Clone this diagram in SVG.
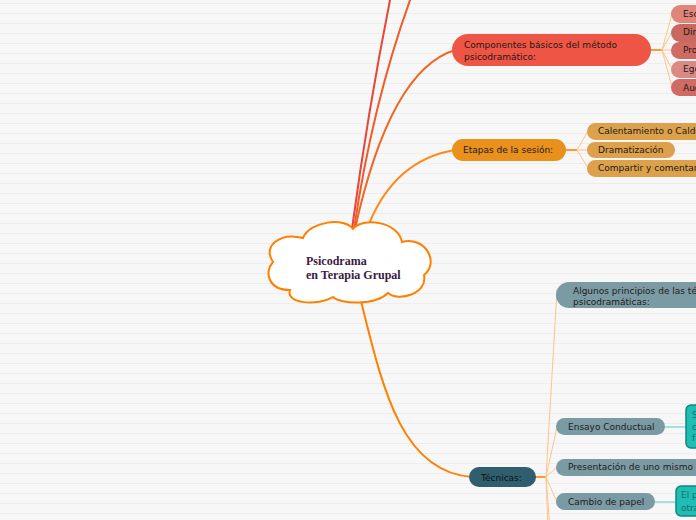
<svg xmlns="http://www.w3.org/2000/svg" width="696" height="520" viewBox="0 0 696 520">
<defs>
<pattern id="bgl" x="0" y="0" width="696" height="10" patternUnits="userSpaceOnUse">
<rect width="696" height="10" fill="#f7f7f7"/>
<rect y="3" width="696" height="1" fill="#ededed"/>
</pattern>
</defs>
<style>
.t{font-family:"DejaVu Sans",Verdana,sans-serif;font-size:9px;fill:#221a1a}
.tt{font-family:"DejaVu Sans",Verdana,sans-serif;font-size:9px;fill:#1a6e6a}
.fan{fill:none;stroke:#ffc487;stroke-width:1}
.stub{fill:none;stroke:#ff9a2a;stroke-width:2}
.tl{fill:none;stroke:#a6e2dd;stroke-width:2}
.cc{fill:#cf6b62}
.ec{fill:#dda04b}
.tc{fill:#7b9ba4}
.gc{fill:#1fbdb4;stroke:#11877f;stroke-width:1.5}
</style>
<rect width="696" height="520" fill="url(#bgl)"/>
<g id="connectors">
<path d="M352,229 Q368,110 391,-5" fill="none" stroke="#e8453a" stroke-width="2"/>
<path d="M354,229 Q373,100 413,-8" fill="none" stroke="#f25a28" stroke-width="2"/>
<path d="M355,229 Q390,70 455,50" fill="none" stroke="#f26524" stroke-width="2"/>
<path d="M369,224 Q395,160 455,150" fill="none" stroke="#ff8a1a" stroke-width="2"/>
<path d="M360,297 C382,385 400,472 472,477" fill="none" stroke="#ff8000" stroke-width="2"/>
<path class="stub" d="M650,50 H662"/>
<path class="fan" d="M662,50 L672,14 M662,50 L672,32 M662,50 L672,50 M662,50 L672,69 M662,50 L672,87"/>
<path class="stub" d="M565,150 H577"/>
<path class="fan" d="M577,150 L588,131 M577,150 L588,150 M577,150 L588,168"/>
<path class="stub" d="M534,477 H546"/>
<path class="fan" d="M546,477 L557,290 M546,477 L557,427 M546,477 L557,467 M546,477 L557,502 M546,477 L557,620 M546,477 L557,760"/>
<path class="tl" d="M664,427 H687"/>
<path class="tl" d="M654,502 H677"/>
</g>
<g id="root">
<path d="M273,262 C262,246 280,232 303,238 C310,221 345,217 353,229 C362,217 398,221 402,242 C425,236 440,262 424,275 C428,294 398,302 388,293 C375,306 340,304 333,297 C318,306 285,304 290,290 C268,290 264,272 273,262 Z" fill="#ffffff" stroke="#ff8000" stroke-width="2"/>
<text x="306" y="265" font-family="'Liberation Serif',serif" font-weight="bold" font-size="12" fill="#3b1a46">Psicodrama</text>
<text x="306" y="279" font-family="'Liberation Serif',serif" font-weight="bold" font-size="12" fill="#3b1a46">en Terapia Grupal</text>
</g>
<g id="componentes">
<rect x="452" y="34" width="199" height="32" rx="16" fill="#ee5545"/>
<text class="t" x="464" y="48">Componentes básicos del método</text>
<text class="t" x="464" y="60">psicodramático:</text>
</g>
<g id="c1"><rect x="671" y="5" width="60" height="18" rx="9" fill="#e0857a"/><text class="t" x="683" y="17">Escenario</text></g>
<g id="c2"><rect x="671" y="24" width="60" height="18" rx="9" fill="#c9685f"/><text class="t" x="683" y="35">Director</text></g>
<g id="c3"><rect x="671" y="42" width="60" height="17" rx="8.5" class="cc"/><text class="t" x="683" y="53">Protagonista</text></g>
<g id="c4"><rect x="671" y="61" width="60" height="17" rx="8.5" fill="#d98b83"/><text class="t" x="683" y="72">Ego auxiliar</text></g>
<g id="c5"><rect x="671" y="79" width="60" height="17" rx="8.5" class="cc"/><text class="t" x="683" y="91">Audiencia</text></g>
<g id="etapas">
<rect x="452" y="139" width="114" height="22" rx="11" fill="#e9901d"/>
<text class="t" x="463" y="153">Etapas de la sesión:</text>
</g>
<g id="e1"><rect x="587" y="123" width="140" height="17" rx="8.5" class="ec"/><text class="t" x="598" y="134">Calentamiento o Caldeamiento</text></g>
<g id="e2"><rect x="587" y="142" width="88" height="16" rx="8" class="ec"/><text class="t" x="598" y="153">Dramatización</text></g>
<g id="e3"><rect x="587" y="160" width="140" height="17" rx="8.5" class="ec"/><text class="t" x="598" y="171">Compartir y comentar</text></g>
<g id="tecnicas">
<rect x="469" y="467" width="67" height="20" rx="10" fill="#2f5f6f"/>
<text class="t" x="481" y="481" style="fill:#111">Técnicas:</text>
</g>
<g id="t1"><rect x="556" y="282" width="180" height="26" rx="13" class="tc"/><text class="t" x="573" y="294">Algunos principios de las técnicas</text><text class="t" x="573" y="305">psicodramáticas:</text></g>
<g id="t2"><rect x="556" y="418" width="109" height="17" rx="8.5" class="tc"/><text class="t" x="568" y="430">Ensayo Conductual</text></g>
<g id="t2a"><rect x="686" y="405" width="40" height="43" rx="5" class="gc"/><text class="tt" x="692" y="418">S</text><text class="tt" x="692" y="430">c</text><text class="tt" x="692" y="441">f</text></g>
<g id="t3"><rect x="556" y="459" width="180" height="17" rx="8.5" class="tc"/><text class="t" x="568" y="470">Presentación de uno mismo</text></g>
<g id="t4"><rect x="556" y="493" width="99" height="17" rx="8.5" class="tc"/><text class="t" x="568" y="505">Cambio de papel</text></g>
<g id="t4a"><rect x="676" y="486" width="50" height="30" rx="5" class="gc"/><text class="tt" x="681" y="498">El p</text><text class="tt" x="681" y="511">otra</text></g>
</svg>
